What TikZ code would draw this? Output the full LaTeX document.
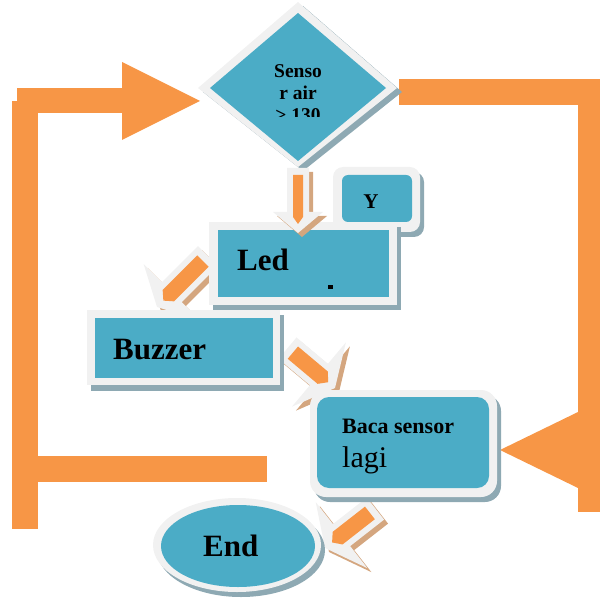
\documentclass[tikz,border=0pt]{standalone}
\usepackage{fontspec}
\setmainfont{Liberation Serif}
\definecolor{orng}{HTML}{F79646}
\definecolor{blu}{HTML}{4BACC6}
\definecolor{wborder}{HTML}{F1F1F1}
\definecolor{gshadow}{HTML}{8EA9B3}
\definecolor{tanc}{HTML}{D4A67F}
% #1 tip, #2 angle, #3 length, #4 head half-width, #5 shaft half-width, #6 orange half-width
\newcommand{\fatarrow}[6]{%
  \begin{scope}[shift={(#1)}]
    \begin{scope}[shift={(4,4)},rotate=#2]
      \fill[tanc] (0,0) -- (-21,#4) -- (-21,#5) -- (-#3,#5) -- (-#3,-#5) -- (-21,-#5) -- (-21,-#4) -- cycle;
    \end{scope}
    \begin{scope}[rotate=#2]
      \fill[wborder] (0,0) -- (-21,#4) -- (-21,#5) -- (-#3,#5) -- (-#3,-#5) -- (-21,-#5) -- (-21,-#4) -- cycle;
      \fill[orng] (-9,0) -- (-16,#6) -- (-#3+7,#6) -- (-#3+7,-#6) -- (-16,-#6) -- cycle;
    \end{scope}
  \end{scope}}
\tikzset{
  lbl/.style={inner sep=0pt, anchor=base west, text=black},
}
\begin{document}
\begin{tikzpicture}[x=1pt,y=-1pt]
\useasboundingbox (0,0) rectangle (600,601);
% left loop
\fill[orng] (12,101) rectangle (38,529);
\fill[orng] (17,88) rectangle (124,113);
\fill[orng] (122,62) -- (200,101) -- (122,140) -- cycle;
\fill[orng] (38,456) rectangle (267,482);
% right loop
\fill[orng] (399,79) rectangle (600,105);
\fill[orng] (578,79) rectangle (600,512);
\fill[orng] (578,412) -- (500,450) -- (578,488) -- cycle;
% small arrows behind boxes
\fatarrow{157,307}{-135}{72}{40}{14}{8}
\fatarrow{335,388}{-40}{62}{42}{14}{8}
\fatarrow{325,548}{-142}{64}{42}{14}{8}
% diamond
\fill[gshadow] (303,6) -- (402,92) -- (303,171) -- (203,92) -- cycle;
\fill[wborder] (298,2) -- (397,88) -- (298,167) -- (198,88) -- cycle;
\fill[blu] (298,13) -- (386,88) -- (298,161) -- (210,88) -- cycle;
\node[coordinate] (dia) at (298,88) {};
\begin{scope}
  \clip (200,0) rectangle (400,117);
  \node[inner sep=0pt, anchor=base, font=\bfseries\fontsize{19.5}{19.5}\selectfont] (t1) at (298,78) {Senso};
  \node[inner sep=0pt, anchor=base, font=\bfseries\fontsize{19.5}{19.5}\selectfont] (t2) at (298,100) {r air};
  \node[inner sep=0pt, anchor=base, font=\bfseries\fontsize{19.5}{19.5}\selectfont] (t3) at (298,122) {> 130};
\end{scope}
% Y box
\fill[gshadow,rounded corners=10] (337,172) rectangle (424,237);
\fill[wborder,rounded corners=10] (333,167) rectangle (420,232);
\fill[blu,rounded corners=6] (342,175) rectangle (412,222);
\node[inner sep=0pt, anchor=base, font=\bfseries\fontsize{21}{21}\selectfont] (y) at (371,209) {Y};
% Led box
\fill[gshadow] (213,227) rectangle (401,310);
\fill[wborder] (209,222) rectangle (397,305);
\fill[blu] (218,230) rectangle (389,297);
\node[lbl, font=\bfseries\fontsize{31}{31}\selectfont] (led) at (237,270) {Led};
\fill[black] (328,285) rectangle (333,289);
% Buzzer box
\fill[gshadow] (91,315) rectangle (284,391);
\fill[wborder] (87,310) rectangle (280,385);
\fill[blu] (95,318) rectangle (273,378);
\node[lbl, font=\bfseries\fontsize{31}{31}\selectfont] (buz) at (113,359) {Buzzer};
% Baca box
\fill[gshadow,rounded corners=16] (314,395) rectangle (501,502);
\fill[wborder,rounded corners=16] (310,390) rectangle (497,497);
\fill[blu,rounded corners=12] (317,397) rectangle (489,488);
\node[lbl, font=\bfseries\fontsize{22}{22}\selectfont] (baca) at (342,433) {Baca sensor};
\node[lbl, font=\fontsize{30}{30}\selectfont] (lagi) at (342,467) {lagi};
% End ellipse
\fill[gshadow] (241,550) ellipse [x radius=84, y radius=47];
\fill[wborder] (237,545) ellipse [x radius=84, y radius=47];
\fill[blu] (238,546) ellipse [x radius=77, y radius=41];
\node[lbl, font=\bfseries\fontsize{31}{31}\selectfont] (end) at (203,556) {End};
% arrow over Led
\fatarrow{298,233}{-90}{65}{25}{11}{5}
\end{tikzpicture}
\end{document}
